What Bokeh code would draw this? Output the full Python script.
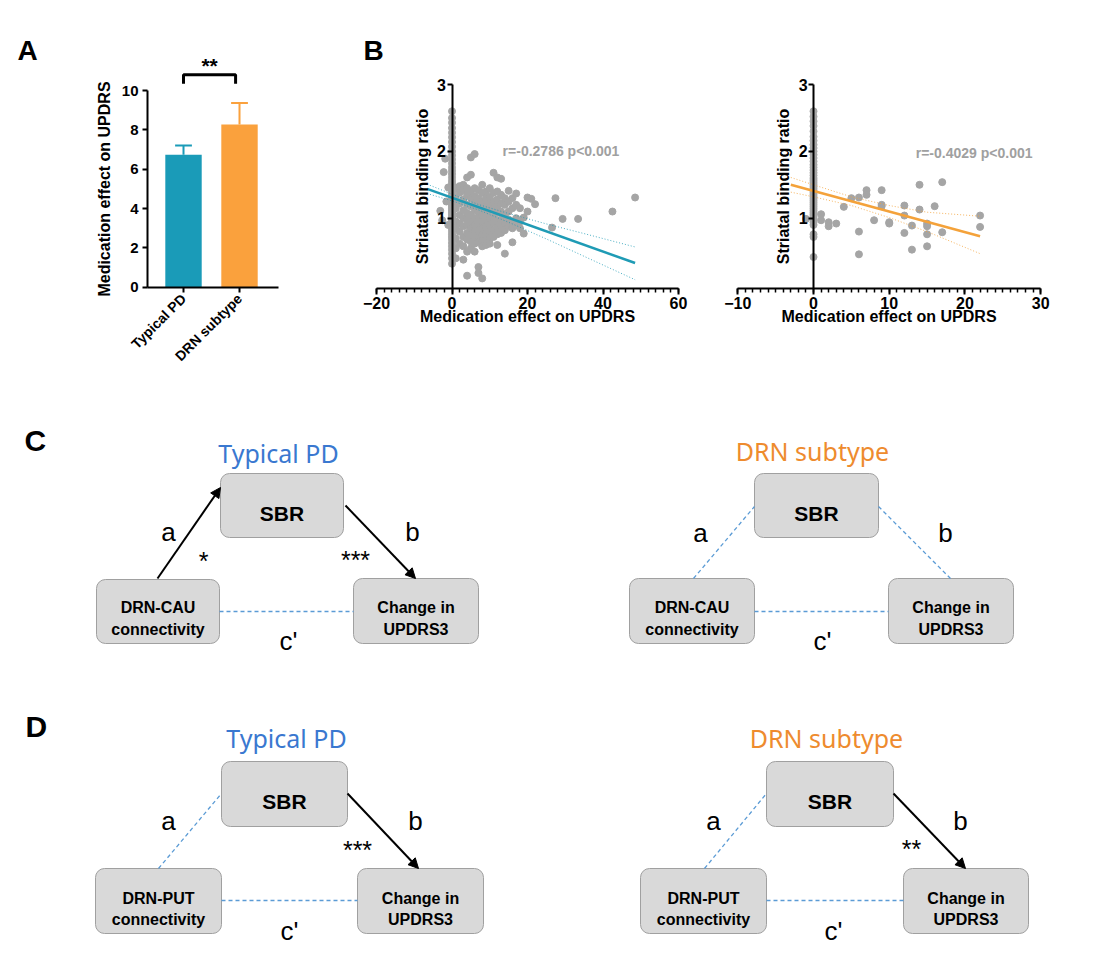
import math
from bokeh.plotting import figure
from bokeh.models import Range1d, FixedTicker, SingleIntervalTicker, Arrow, NormalHead
from bokeh.layouts import column, row
from bokeh.core.properties import value
from bokeh.embed import file_html
from bokeh.resources import INLINE

FONT = "Liberation Sans"
TITLE_FONT = "Noto Sans"

# ---------------- Panel A data ----------------
groups = ["Typical PD", "DRN subtype"]
group_means = [6.73, 8.27]
group_sems = [0.47, 1.10]
group_colors = ["#1A9BB8", "#FAA13D"]
group_sig = "**"

# ---------------- Panel B data ----------------
tpd_zero_y = [0.32, 0.40, 0.47, 0.53, 0.58, 0.63, 0.68, 0.72, 0.76, 0.80, 0.84, 0.88,
              0.91, 0.94, 0.97, 1.00, 1.03, 1.06, 1.09, 1.12, 1.15, 1.18, 1.21, 1.24,
              1.27, 1.30, 1.33, 1.36, 1.40, 1.44, 1.48, 1.52, 1.56, 1.61, 1.66, 1.71,
              1.76, 1.82, 1.88, 1.94, 2.00, 2.07, 2.14, 2.21, 2.28, 2.35, 2.43, 2.50, 2.60]
tpd_points = [
    (-1, 1.46), (-1.8, 1.89), (-2.2, 1.69), (-3.1, 1.11), (-2.6, 0.97), (-1, 0.90), (-1.5, 1.25),
    (1, 1.45), (1, 1.30), (1, 1.15), (1, 0.95), (1, 0.85), (1, 0.70), (1, 0.55), (1, 0.40),
    (2, 1.48), (2, 1.38), (2, 1.22), (2, 1.05), (2, 0.92), (2, 0.80), (2, 0.62),
    (3, 1.50), (3, 1.42), (3, 1.28), (3, 1.12), (3, 1.00), (3, 0.88), (3, 0.72), (3, 0.58), (3, 0.38),
    (4, 1.61), (4, 1.45), (4, 1.35), (4, 1.20), (4, 1.08), (4, 0.98), (4, 0.90), (4, 0.78), (4, 0.68), (4, 0.50), (4, 0.14),
    (5, 1.91), (5, 1.65), (5, 1.40), (5, 1.30), (5, 1.18), (5, 1.05), (5, 0.95), (5, 0.85), (5, 0.75), (5, 0.65), (5, 0.55),
    (6, 1.96), (6, 1.45), (6, 1.33), (6, 1.22), (6, 1.12), (6, 1.00), (6, 0.90), (6, 0.80), (6, 0.70), (6, 0.62), (6, 0.50),
    (7, 1.42), (7, 1.30), (7, 1.20), (7, 1.10), (7, 1.02), (7, 0.92), (7, 0.82), (7, 0.72), (7, 0.64), (7, 0.27), (7, 0.18),
    (8, 1.50), (8, 1.38), (8, 1.25), (8, 1.15), (8, 1.05), (8, 0.95), (8, 0.85), (8, 0.75), (8, 0.66), (8, 0.58), (8, 0.10),
    (9, 1.40), (9, 1.30), (9, 1.18), (9, 1.08), (9, 0.98), (9, 0.88), (9, 0.78), (9, 0.68), (9, 0.60),
    (10, 1.45), (10, 1.32), (10, 1.22), (10, 1.12), (10, 1.00), (10, 0.90), (10, 0.80), (10, 0.70), (10, 0.62),
    (11, 1.68), (11, 1.38), (11, 1.25), (11, 1.15), (11, 1.02), (11, 0.93), (11, 0.82), (11, 0.72),
    (12, 1.61), (12, 1.40), (12, 1.28), (12, 1.18), (12, 1.08), (12, 0.96), (12, 0.86), (12, 0.76), (12, 0.60),
    (13, 1.59), (13, 1.35), (13, 1.22), (13, 1.10), (13, 0.98), (13, 0.88), (13, 0.78),
    (14, 1.30), (14, 1.20), (14, 1.05), (14, 0.92), (14, 0.82), (14, 0.47),
    (15, 1.41), (15, 1.25), (15, 1.10), (15, 0.98), (15, 0.88),
    (16, 1.30), (16, 1.15), (16, 0.95), (16, 0.85), (16, 0.64),
    (17, 1.37), (17, 1.20), (17, 1.00), (17, 0.90),
    (18, 1.15), (18, 0.95), (18, 0.85),
    (19, 1.01), (19, 0.77),
    (20, 1.31), (20, 1.10),
    (21, 1.29), (22, 1.21),
    (26.5, 0.86), (27.4, 1.30), (29.3, 0.99), (33.4, 0.99), (42.5, 1.10), (48.5, 1.31),
]
tpd_fit_x = [-6.6, 48.5]
tpd_fit_y = [1.44, 0.33]
tpd_ci_x = [-6.6, 0, 7, 15, 25, 35, 48.5]
tpd_ci_hi = [1.51, 1.36, 1.205, 1.07, 0.915, 0.77, 0.57]
tpd_ci_lo = [1.37, 1.26, 1.125, 0.94, 0.69, 0.43, 0.08]
tpd_stats = "r=-0.2786  p<0.001"

drn_zero_y = [0.42, 0.72, 0.76, 0.90, 0.94, 0.97, 1.00, 1.03, 1.06, 1.09, 1.12, 1.15,
              1.18, 1.21, 1.24, 1.27, 1.30, 1.33, 1.36, 1.39, 1.42, 1.45, 1.48, 1.51,
              1.54, 1.57, 1.60, 1.64, 1.68, 1.72, 1.76, 1.80, 1.85, 1.90, 1.95, 2.00,
              2.05, 2.10, 2.16, 2.22, 2.30, 2.38, 2.45, 2.52, 2.60]
drn_points = [
    (-1, 0.99), (1, 1.06), (1, 0.97), (2, 0.94), (2, 0.88), (3, 0.92), (4, 1.17), (5, 1.30),
    (6, 1.31), (6, 0.80), (6, 0.46), (7, 1.42), (7, 1.35), (8, 0.97), (9, 1.42), (9, 1.20),
    (9, 1.18), (10, 0.94), (10, 0.92), (12, 1.19), (12, 1.04), (12, 0.78), (13, 0.89),
    (13, 0.53), (14, 1.50), (14, 1.13), (15, 0.92), (15, 0.88), (15, 0.76), (15, 0.58),
    (16, 1.18), (17, 1.54), (17, 0.79), (22, 1.04), (22, 0.87),
]
drn_fit_x = [-3, 22]
drn_fit_y = [1.50, 0.73]
drn_ci_x = [-3, 0, 5, 10, 15, 22]
drn_ci_hi = [1.61, 1.50, 1.32, 1.19, 1.09, 1.03]
drn_ci_lo = [1.39, 1.32, 1.19, 1.01, 0.80, 0.47]
drn_stats = "r=-0.4029  p<0.001"

x_label_B = "Medication effect on UPDRS"
y_label_B = "Striatal binding ratio"
y_label_A = "Medication effect on UPDRS"

# ---------------- Panels C / D data ----------------
diagram_titles = ["Typical PD", "DRN subtype", "Typical PD", "DRN subtype"]
diagram_colors = ["#3A78D0", "#EE8B2E", "#3A78D0", "#EE8B2E"]
mediator_name = "SBR"
predictor_lines = [["DRN-CAU", "connectivity"], ["DRN-CAU", "connectivity"],
                   ["DRN-PUT", "connectivity"], ["DRN-PUT", "connectivity"]]
outcome_lines = ["Change in", "UPDRS3"]
a_sig = ["*", "", "", ""]
b_sig = ["***", "", "***", "**"]
path_names = ["a", "b", "c'"]

GRAY = "#A5A5A5"
TOP_H = 392


def style_axis(ax, tick_size="16px"):
    ax.axis_line_width = 2
    ax.axis_line_color = "black"
    ax.major_tick_line_width = 2
    ax.major_tick_line_color = "black"
    ax.minor_tick_line_width = 1.5
    ax.minor_tick_line_color = "black"
    ax.major_tick_in = 0
    ax.minor_tick_in = 0
    ax.major_label_text_font = FONT
    ax.major_label_text_font_style = "bold"
    ax.major_label_text_font_size = tick_size
    ax.major_label_text_color = "black"
    ax.axis_label_text_font = FONT
    ax.axis_label_text_font_style = "bold"
    ax.axis_label_text_font_size = "16px"
    ax.axis_label_text_color = "black"


def bare_figure(width, height, xr, yr):
    p = figure(width=width, height=height, x_range=Range1d(*xr), y_range=Range1d(*yr),
               output_backend="svg", toolbar_location=None,
               min_border=0, min_border_left=0, min_border_right=0, min_border_top=0, min_border_bottom=0)
    p.grid.visible = False
    p.outline_line_color = None
    return p


# ---------------- Panel A ----------------
pA = bare_figure(350, TOP_H, (-2.768, 3.482), (-5.353, 14.576))
bar_x = [i + 0.5 for i in range(len(groups))]
err_top = [m + s for m, s in zip(group_means, group_sems)]
pA.vbar(x=bar_x, top=group_means, width=0.65, fill_color=group_colors, line_color=None)
pA.segment(x0=bar_x, y0=group_means, x1=bar_x, y1=err_top, line_color=group_colors, line_width=2)
pA.segment(x0=[x - 0.15 for x in bar_x], y0=err_top, x1=[x + 0.15 for x in bar_x], y1=err_top,
           line_color=group_colors, line_width=2)
pA.line(x=[bar_x[0], bar_x[0], bar_x[1] - 0.07, bar_x[1] - 0.07], y=[10.34, 10.8, 10.8, 10.34],
        line_color="black", line_width=3)
pA.text(x=[(bar_x[0] + bar_x[1] - 0.07) / 2], y=[11.25], text=[group_sig], text_font=value(FONT),
        text_font_size="21px", text_font_style="bold", text_align="center", text_baseline="alphabetic")
pA.text(x=[-2.464], y=[12.03], text=["A"], text_font=value(FONT), text_font_size="28px",
        text_font_style="bold", text_baseline="alphabetic", text_align="left")
pA.yaxis.fixed_location = -0.143
pA.yaxis.ticker = FixedTicker(ticks=[0, 2, 4, 6, 8, 10])
pA.yaxis.bounds = (0, 10)
pA.yaxis.axis_label = y_label_A
style_axis(pA.yaxis[0], "15px")
pA.yaxis.major_tick_out = 5
pA.yaxis.major_label_standoff = 4
pA.yaxis.axis_label_standoff = 6
pA.xaxis.fixed_location = 0
pA.xaxis.bounds = (-0.143, 2.196)
pA.xaxis.ticker = FixedTicker(ticks=bar_x)
pA.xaxis.major_label_overrides = {bx: g for bx, g in zip(bar_x, groups)}
style_axis(pA.xaxis[0], "14px")
pA.xaxis.major_label_orientation = math.pi / 4
pA.xaxis.major_tick_out = 5
pA.xaxis.major_label_standoff = 4


# ---------------- Panel B ----------------
def scatter_panel(width, xr, bounds_x, interval, zero_y, points, fit_x, fit_y, ci_x, ci_hi, ci_lo,
                  color, stats, stats_xy):
    p = bare_figure(width, TOP_H, xr, (-1.607, 4.257))
    p.scatter(x=[0] * len(zero_y), y=zero_y, size=7, color=GRAY)
    p.scatter(x=[pt[0] for pt in points], y=[pt[1] for pt in points], size=7, color=GRAY)
    p.line(x=ci_x, y=ci_hi, line_color=color, line_width=1, line_dash="1 2", line_alpha=0.8)
    p.line(x=ci_x, y=ci_lo, line_color=color, line_width=1, line_dash="1 2", line_alpha=0.8)
    p.line(x=fit_x, y=fit_y, line_color=color, line_width=2.5)
    p.text(x=[stats_xy[0]], y=[stats_xy[1]], text=[stats], text_font=value(FONT), text_font_size="14px",
           text_font_style="bold", text_color="#A0A0A0", text_baseline="middle", text_align="left")
    p.yaxis.fixed_location = 0
    p.yaxis.ticker = FixedTicker(ticks=[1, 2, 3])
    p.yaxis.bounds = (-0.052, 3)
    p.yaxis.axis_label = y_label_B
    style_axis(p.yaxis[0])
    p.yaxis.major_tick_out = 5
    p.yaxis.major_label_standoff = 1
    p.yaxis.axis_label_standoff = 4
    p.xaxis.fixed_location = -0.052
    p.xaxis.bounds = bounds_x
    p.xaxis.ticker = SingleIntervalTicker(interval=interval, num_minor_ticks=10)
    p.xaxis.axis_label = x_label_B
    style_axis(p.xaxis[0])
    p.xaxis.major_tick_out = 6
    p.xaxis.minor_tick_out = 4
    p.xaxis.major_label_standoff = 2
    p.xaxis.axis_label_standoff = -4
    return p


pB1 = scatter_panel(355, (-26.89, 67.15), (-20, 60), 20, tpd_zero_y, tpd_points, tpd_fit_x, tpd_fit_y,
                    tpd_ci_x, tpd_ci_hi, tpd_ci_lo, "#1F9BB5", tpd_stats, (13.4, 2.01))
pB1.text(x=[-23.44], y=[3.51], text=["B"], text_font=value(FONT), text_font_size="28px",
         text_font_style="bold", text_baseline="alphabetic", text_align="left")
pB2 = scatter_panel(387, (-14.27, 36.85), (-10, 30), 10, drn_zero_y, drn_points, drn_fit_x, drn_fit_y,
                    drn_ci_x, drn_ci_hi, drn_ci_lo, "#F4A23A", drn_stats, (13.5, 1.97))

# ---------------- Panels C / D ----------------
pCD = bare_figure(1092, 570, (0, 1092), (962, 392))
pCD.axis.visible = False

geom = [
    dict(title=(278, 452), med=(220, 343, 473, 537), pred=(96, 219, 579, 643), out=(353, 478, 578, 643),
         a=((157, 578), (220, 487)), b=((345, 505), (415, 578)), cy=611, cx=(219, 353),
         lab_a=(168, 531), lab_b=(412, 531), lab_c=(288, 640), sig_a=(203, 560), sig_b=(355, 559),
         base=(513, 607, 629)),
    dict(title=(812, 450), med=(754, 878, 473, 537), pred=(629, 754, 578, 643), out=(888, 1013, 578, 643),
         a=((693, 578), (754, 506)), b=((878, 506), (950, 578)), cy=611, cx=(754, 888),
         lab_a=(700, 532), lab_b=(945, 532), lab_c=(822, 640), sig_a=(730, 560), sig_b=(900, 560),
         base=(513, 607, 629)),
    dict(title=(286, 737), med=(221, 347, 761, 826), pred=(95, 221, 868, 933), out=(357, 483, 868, 933),
         a=((158, 868), (221, 793)), b=((347, 793), (418, 868)), cy=900, cx=(221, 357),
         lab_a=(168, 820), lab_b=(415, 820), lab_c=(289, 930), sig_a=(205, 849), sig_b=(357, 849),
         base=(801, 898, 919)),
    dict(title=(826, 737), med=(766, 893, 761, 826), pred=(640, 766, 868, 933), out=(903, 1028, 868, 933),
         a=((704, 868), (766, 793)), b=((893, 793), (965, 868)), cy=900, cx=(766, 903),
         lab_a=(713, 820), lab_b=(960, 820), lab_c=(833, 930), sig_a=(750, 849), sig_b=(911, 848),
         base=(801, 898, 919)),
]

pCD.text(x=[24, 25], y=[440, 726], text=["C", "D"], text_font=value(FONT), text_font_size="30px",
         text_font_style="bold", text_align="left", text_baseline="alphabetic", text_color="black")

BOX_FILL = "#D9D9D9"
BOX_LINE = "#A0A0A0"
DASH = "#5B9BD5"

for i, g in enumerate(geom):
    pCD.text(x=[g["title"][0]], y=[g["title"][1]], text=[diagram_titles[i]], text_font=value(TITLE_FONT),
             text_font_size="25px", text_align="center", text_baseline="alphabetic",
             text_color=diagram_colors[i])
    boxes = [g["med"], g["pred"], g["out"]]
    pCD.quad(left=[b[0] for b in boxes], right=[b[1] for b in boxes], top=[b[2] for b in boxes],
             bottom=[b[3] for b in boxes], fill_color=BOX_FILL, line_color=BOX_LINE, line_width=1,
             border_radius=9)
    med_cx = (g["med"][0] + g["med"][1]) / 2
    pred_cx = (g["pred"][0] + g["pred"][1]) / 2
    out_cx = (g["out"][0] + g["out"][1]) / 2
    pCD.text(x=[med_cx], y=[g["base"][0]], text=[mediator_name], text_font=value(FONT), text_font_size="21px",
             text_font_style="bold", text_align="center", text_baseline="alphabetic", text_color="black")
    pCD.text(x=[pred_cx, pred_cx, out_cx, out_cx], y=[g["base"][1], g["base"][2], g["base"][1], g["base"][2]],
             text=[predictor_lines[i][0], predictor_lines[i][1], outcome_lines[0], outcome_lines[1]],
             text_font=value(FONT), text_font_size="16px", text_font_style="bold", text_align="center",
             text_baseline="alphabetic", text_color="black")
    for path, sig in (("a", a_sig[i]), ("b", b_sig[i])):
        (x0, y0), (x1, y1) = g[path]
        if sig:
            pCD.add_layout(Arrow(end=NormalHead(size=10, fill_color="black", line_color="black"),
                                 x_start=x0, y_start=y0, x_end=x1, y_end=y1,
                                 line_color="black", line_width=2))
            sx, sy = g["sig_" + path]
            pCD.text(x=[sx], y=[sy], text=[sig], text_font=value(FONT), text_font_size="25px",
                     text_align="center", text_baseline="alphabetic", text_color="black")
        else:
            pCD.segment(x0=[x0], y0=[y0], x1=[x1], y1=[y1], line_color=DASH, line_width=1.3, line_dash="4 3")
    pCD.segment(x0=[g["cx"][0]], y0=[g["cy"]], x1=[g["cx"][1]], y1=[g["cy"]], line_color=DASH,
                line_width=1.3, line_dash="4 3")
    pCD.text(x=[g["lab_a"][0], g["lab_b"][0], g["lab_c"][0]], y=[g["lab_a"][1], g["lab_b"][1], g["lab_c"][1]],
             text=path_names, text_font=value(FONT), text_font_size="26px", text_align="center",
             text_baseline="alphabetic", text_color="black")

layout = column(row(pA, pB1, pB2), pCD)
open("out.html", "w").write(file_html(layout, INLINE))
